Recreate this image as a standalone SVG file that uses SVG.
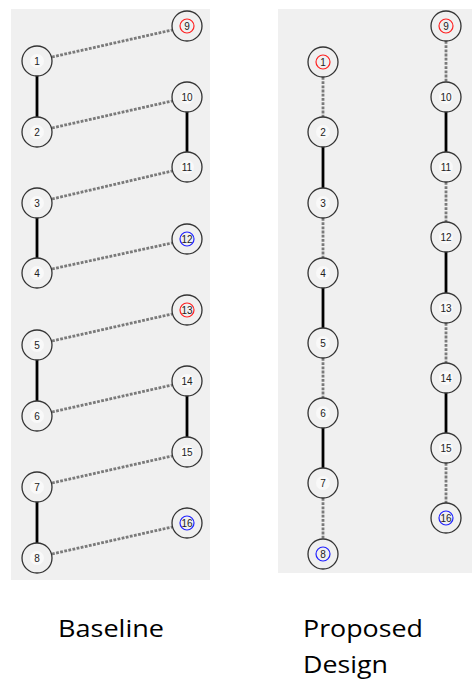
<svg xmlns="http://www.w3.org/2000/svg" width="472" height="681" viewBox="0 0 472 681">
  <style>
    .panel { fill: #f0f0f0; }
    .node circle.ring { fill: #f0f0f0; stroke: #333; stroke-width: 1.3; }
    .node circle.glow { fill: #f9f9f9; stroke: none; }
    .node circle.red { fill: none; stroke: #ff2020; stroke-width: 1.2; }
    .node circle.blue { fill: none; stroke: #2020ff; stroke-width: 1.2; }
    .node text { font-family: "Liberation Sans", Arial, sans-serif; font-size: 10px; fill: #222; text-anchor: middle; }
    .solid { stroke: #000; stroke-width: 2.8; fill: none; }
    .dotted { stroke: #7a7a7a; stroke-width: 2.8; stroke-dasharray: 2.8 1.4; fill: none; }
    .caption { font-family: "Open Sans", "Noto Sans", sans-serif; font-size: 23px; fill: #000; }
  </style>

  <rect class="panel" x="11" y="9" width="199" height="571"/>
  <rect class="panel" x="278" y="9" width="194" height="564"/>

  <!-- Baseline connectors -->
  <g id="connectors-baseline">
    <line class="solid" x1="37" y1="61" x2="37" y2="132"/>
    <line class="solid" x1="37" y1="203" x2="37" y2="273"/>
    <line class="solid" x1="37" y1="345" x2="37" y2="416"/>
    <line class="solid" x1="37" y1="487" x2="37" y2="558"/>
    <line class="solid" x1="187" y1="97" x2="187" y2="167"/>
    <line class="solid" x1="187" y1="381" x2="187" y2="452"/>
    <line class="dotted" x1="52" y1="57" x2="172" y2="30"/>
    <line class="dotted" x1="52" y1="128" x2="172" y2="101"/>
    <line class="dotted" x1="52" y1="199" x2="172" y2="171"/>
    <line class="dotted" x1="52" y1="269" x2="172" y2="243"/>
    <line class="dotted" x1="52" y1="341" x2="172" y2="314"/>
    <line class="dotted" x1="52" y1="412" x2="172" y2="385"/>
    <line class="dotted" x1="52" y1="483" x2="172" y2="456"/>
    <line class="dotted" x1="52" y1="554" x2="172" y2="527"/>
  </g>

  <!-- Proposed design connectors -->
  <g id="connectors-proposed">
    <line class="dotted" x1="323" y1="77" x2="323" y2="117"/>
    <line class="solid" x1="323" y1="132" x2="323" y2="203"/>
    <line class="dotted" x1="323" y1="218" x2="323" y2="258"/>
    <line class="solid" x1="323" y1="273" x2="323" y2="343"/>
    <line class="dotted" x1="323" y1="358" x2="323" y2="398"/>
    <line class="solid" x1="323" y1="413" x2="323" y2="483"/>
    <line class="dotted" x1="323" y1="498" x2="323" y2="539"/>
    <line class="dotted" x1="446" y1="41" x2="446" y2="82"/>
    <line class="solid" x1="446" y1="97" x2="446" y2="167"/>
    <line class="dotted" x1="446" y1="182" x2="446" y2="222"/>
    <line class="solid" x1="446" y1="237" x2="446" y2="308"/>
    <line class="dotted" x1="446" y1="323" x2="446" y2="363"/>
    <line class="solid" x1="446" y1="378" x2="446" y2="448"/>
    <line class="dotted" x1="446" y1="463" x2="446" y2="503"/>
  </g>

  <!-- Baseline nodes -->
  <g id="b1" class="node"><circle class="ring" cx="37" cy="61" r="15"/><circle class="glow" cx="37" cy="61" r="7"/><text x="37" y="64.5">1</text></g>
  <g id="b2" class="node"><circle class="ring" cx="37" cy="132" r="15"/><circle class="glow" cx="37" cy="132" r="7"/><text x="37" y="135.5">2</text></g>
  <g id="b3" class="node"><circle class="ring" cx="37" cy="203" r="15"/><circle class="glow" cx="37" cy="203" r="7"/><text x="37" y="206.5">3</text></g>
  <g id="b4" class="node"><circle class="ring" cx="37" cy="273" r="15"/><circle class="glow" cx="37" cy="273" r="7"/><text x="37" y="276.5">4</text></g>
  <g id="b5" class="node"><circle class="ring" cx="37" cy="345" r="15"/><circle class="glow" cx="37" cy="345" r="7"/><text x="37" y="348.5">5</text></g>
  <g id="b6" class="node"><circle class="ring" cx="37" cy="416" r="15"/><circle class="glow" cx="37" cy="416" r="7"/><text x="37" y="419.5">6</text></g>
  <g id="b7" class="node"><circle class="ring" cx="37" cy="487" r="15"/><circle class="glow" cx="37" cy="487" r="7"/><text x="37" y="490.5">7</text></g>
  <g id="b8" class="node"><circle class="ring" cx="37" cy="558" r="15"/><circle class="glow" cx="37" cy="558" r="7"/><text x="37" y="561.5">8</text></g>
  <g id="b9" class="node"><circle class="ring" cx="187" cy="26" r="15"/><circle class="red" cx="187" cy="26" r="7"/><text x="187" y="29.5">9</text></g>
  <g id="b10" class="node"><circle class="ring" cx="187" cy="97" r="15"/><circle class="glow" cx="187" cy="97" r="7"/><text x="187" y="100.5">10</text></g>
  <g id="b11" class="node"><circle class="ring" cx="187" cy="167" r="15"/><circle class="glow" cx="187" cy="167" r="7"/><text x="187" y="170.5">11</text></g>
  <g id="b12" class="node"><circle class="ring" cx="187" cy="239" r="15"/><circle class="blue" cx="187" cy="239" r="7"/><text x="187" y="242.5">12</text></g>
  <g id="b13" class="node"><circle class="ring" cx="187" cy="310" r="15"/><circle class="red" cx="187" cy="310" r="7"/><text x="187" y="313.5">13</text></g>
  <g id="b14" class="node"><circle class="ring" cx="187" cy="381" r="15"/><circle class="glow" cx="187" cy="381" r="7"/><text x="187" y="384.5">14</text></g>
  <g id="b15" class="node"><circle class="ring" cx="187" cy="452" r="15"/><circle class="glow" cx="187" cy="452" r="7"/><text x="187" y="455.5">15</text></g>
  <g id="b16" class="node"><circle class="ring" cx="187" cy="523" r="15"/><circle class="blue" cx="187" cy="523" r="7"/><text x="187" y="526.5">16</text></g>

  <!-- Proposed design nodes -->
  <g id="p1" class="node"><circle class="ring" cx="323" cy="62" r="15"/><circle class="red" cx="323" cy="62" r="7"/><text x="323" y="65.5">1</text></g>
  <g id="p2" class="node"><circle class="ring" cx="323" cy="132" r="15"/><circle class="glow" cx="323" cy="132" r="7"/><text x="323" y="135.5">2</text></g>
  <g id="p3" class="node"><circle class="ring" cx="323" cy="203" r="15"/><circle class="glow" cx="323" cy="203" r="7"/><text x="323" y="206.5">3</text></g>
  <g id="p4" class="node"><circle class="ring" cx="323" cy="273" r="15"/><circle class="glow" cx="323" cy="273" r="7"/><text x="323" y="276.5">4</text></g>
  <g id="p5" class="node"><circle class="ring" cx="323" cy="343" r="15"/><circle class="glow" cx="323" cy="343" r="7"/><text x="323" y="346.5">5</text></g>
  <g id="p6" class="node"><circle class="ring" cx="323" cy="413" r="15"/><circle class="glow" cx="323" cy="413" r="7"/><text x="323" y="416.5">6</text></g>
  <g id="p7" class="node"><circle class="ring" cx="323" cy="483" r="15"/><circle class="glow" cx="323" cy="483" r="7"/><text x="323" y="486.5">7</text></g>
  <g id="p8" class="node"><circle class="ring" cx="323" cy="554" r="15"/><circle class="blue" cx="323" cy="554" r="7"/><text x="323" y="557.5">8</text></g>
  <g id="p9" class="node"><circle class="ring" cx="446" cy="26" r="15"/><circle class="red" cx="446" cy="26" r="7"/><text x="446" y="29.5">9</text></g>
  <g id="p10" class="node"><circle class="ring" cx="446" cy="97" r="15"/><circle class="glow" cx="446" cy="97" r="7"/><text x="446" y="100.5">10</text></g>
  <g id="p11" class="node"><circle class="ring" cx="446" cy="167" r="15"/><circle class="glow" cx="446" cy="167" r="7"/><text x="446" y="170.5">11</text></g>
  <g id="p12" class="node"><circle class="ring" cx="446" cy="237" r="15"/><circle class="glow" cx="446" cy="237" r="7"/><text x="446" y="240.5">12</text></g>
  <g id="p13" class="node"><circle class="ring" cx="446" cy="308" r="15"/><circle class="glow" cx="446" cy="308" r="7"/><text x="446" y="311.5">13</text></g>
  <g id="p14" class="node"><circle class="ring" cx="446" cy="378" r="15"/><circle class="glow" cx="446" cy="378" r="7"/><text x="446" y="381.5">14</text></g>
  <g id="p15" class="node"><circle class="ring" cx="446" cy="448" r="15"/><circle class="glow" cx="446" cy="448" r="7"/><text x="446" y="451.5">15</text></g>
  <g id="p16" class="node"><circle class="ring" cx="446" cy="518" r="15"/><circle class="blue" cx="446" cy="518" r="7"/><text x="446" y="521.5">16</text></g>

  <!-- Captions -->
  <text class="caption" x="58" y="637" textLength="106" lengthAdjust="spacingAndGlyphs">Baseline</text>
  <text class="caption" x="303" y="637" textLength="120" lengthAdjust="spacingAndGlyphs">Proposed</text>
  <text class="caption" x="303" y="673" textLength="85" lengthAdjust="spacingAndGlyphs">Design</text>
</svg>
